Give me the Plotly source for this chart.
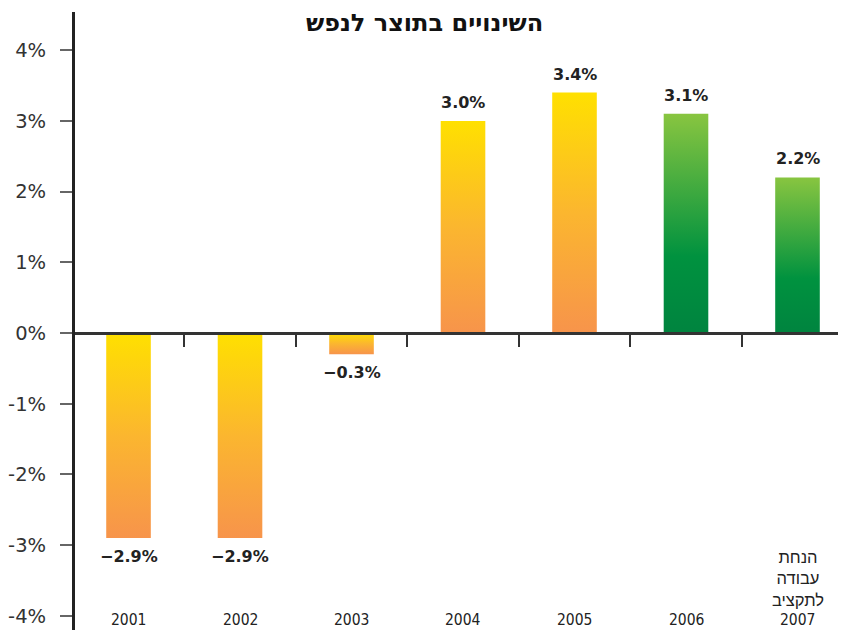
import plotly.graph_objects as go

# ---- data ----
years = ["2001", "2002", "2003", "2004", "2005", "2006", "2007"]
label_note = ["", "", "", "", "", "", "הנחת<br>עבודה<br>לתקציב"]
values = [-2.9, -2.9, -0.3, 3.0, 3.4, 3.1, 2.2]
value_text = ["−2.9%", "−2.9%", "−0.3%", "3.0%", "3.4%", "3.1%", "2.2%"]
bar_group = ["actual", "actual", "actual", "actual", "actual", "forecast", "forecast"]
y_ticks = [-4, -3, -2, -1, 0, 1, 2, 3, 4]
y_tick_text = ["-4%", "-3%", "-2%", "-1%", "0%", "1%", "2%", "3%", "4%"]
title_text = "השינויים בתוצר לנפש"

# ---- style ----
scales = {
    "actual": [[0, "#F7944B"], [0.5, "#FBB62F"], [1, "#FFE000"]],
    "forecast": [[0, "#00843F"], [0.35, "#00923F"], [1, "#88C540"]],
}
half_w = 0.2
y_min, y_max = -4.2, 4.54
x_min, x_max = -0.48, 6.435
# page has an 8px body margin; figure is sized to fill the rest of the window
W, H = 838, 622
ML, MT = 67, 4

fig = go.Figure()

for i, v in enumerate(values):
    fig.add_trace(go.Scatter(
        x=[i - half_w, i + half_w, i + half_w, i - half_w, i - half_w],
        y=[0, 0, v, v, 0],
        mode="lines", fill="toself",
        line=dict(width=0, color="rgba(0,0,0,0)"),
        fillgradient=dict(type="vertical", colorscale=scales[bar_group[i]]),
        hoverinfo="skip", showlegend=False,
    ))

# value labels
for i, v in enumerate(values):
    fig.add_annotation(
        x=i, y=v, xref="x", yref="y", showarrow=False,
        yanchor="bottom" if v >= 0 else "top",
        yshift=7 if v >= 0 else -7,
        text=value_text[i],
        font=dict(family="DejaVu Sans", size=16, color="#222222", weight="bold"),
    )

# category labels at the bottom
cat_font = dict(family="DejaVu Sans Condensed, Liberation Sans Narrow, DejaVu Sans",
                size=15.5, color="#222222")
note_font = dict(family="Liberation Sans, DejaVu Sans", size=16.5, color="#222222")
for i, y in enumerate(years):
    fig.add_annotation(
        x=i, y=y_min, xref="x", yref="y", yanchor="bottom", xanchor="center",
        text=y, showarrow=False, borderpad=0, font=cat_font,
    )
    if label_note[i]:
        fig.add_annotation(
            x=i, y=y_min, xref="x", yref="y", yanchor="bottom", xanchor="center",
            yshift=20, text=label_note[i], showarrow=False, borderpad=0,
            font=note_font,
        )

plot_h = H - MT
fig.add_annotation(
    x=(424 - 75) / 771, y=1 + MT / plot_h, xref="paper", yref="paper",
    xanchor="center", yanchor="top", text=title_text, showarrow=False,
    borderpad=0,
    font=dict(family="DejaVu Sans", size=24, color="#111111", weight="bold"),
)

fig.update_layout(
    width=W, height=H,
    margin=dict(l=ML, r=0, t=MT, b=0, autoexpand=False),
    plot_bgcolor="white", paper_bgcolor="white",
    xaxis=dict(
        range=[x_min, x_max], anchor="free",
        position=(0 - y_min) / (y_max - y_min),
        showline=True, linecolor="#333333", linewidth=3,
        tickvals=[i + 0.5 for i in range(len(years) - 1)],
        ticks="outside", ticklen=12, tickwidth=2, tickcolor="#333333",
        showticklabels=False, showgrid=False, zeroline=False,
        fixedrange=True,
    ),
    yaxis=dict(
        range=[y_min, y_max],
        tickvals=y_ticks, ticktext=y_tick_text,
        ticks="outside", ticklen=12, tickwidth=2, tickcolor="#666666",
        ticklabelstandoff=10,
        showline=True, linecolor="#222222", linewidth=3,
        showgrid=False, zeroline=False,
        tickfont=dict(family="DejaVu Sans", size=19.5, color="#333333"),
        fixedrange=True,
    ),
)

fig.write_html("out.html")
